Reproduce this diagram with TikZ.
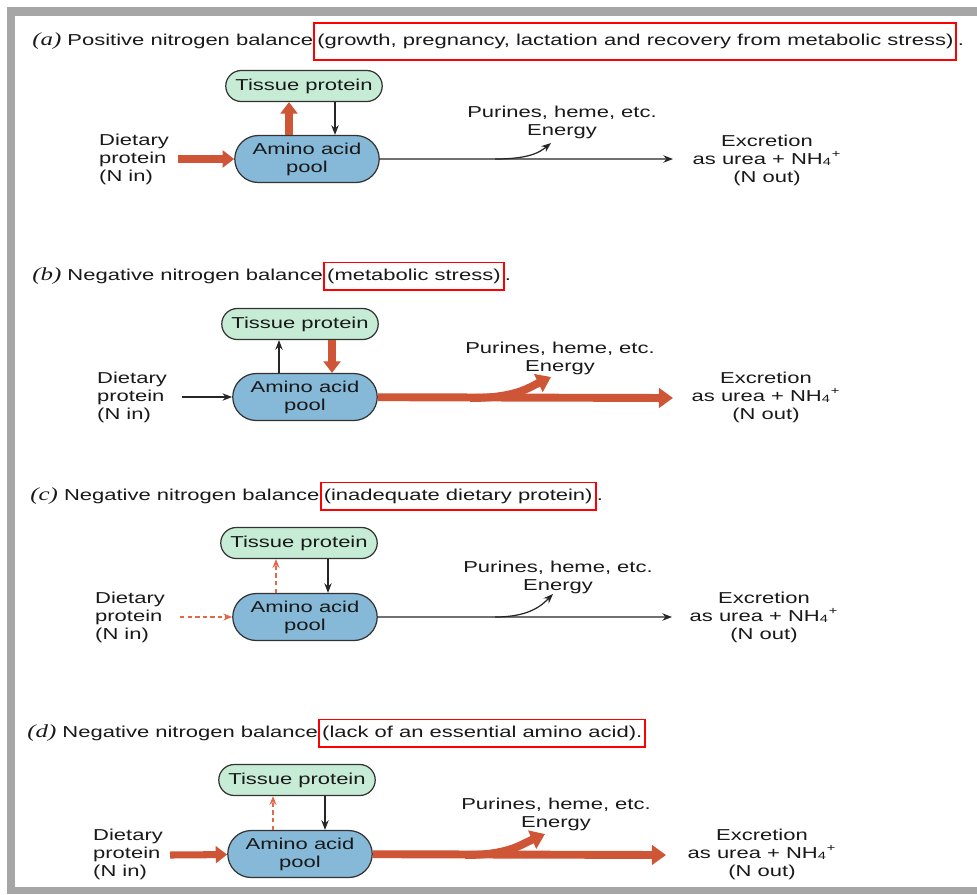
\documentclass[tikz,border=0pt]{standalone}
\usepackage{fontspec}
\setmainfont[FakeStretch=1.39]{Liberation Sans}
\newfontfamily\lblfont[FakeStretch=1.35]{Liberation Serif}
\usetikzlibrary{arrows.meta, shapes.misc, positioning}

\definecolor{tissuegreen}{HTML}{C6ECD6}
\definecolor{poolblue}{HTML}{86B8D8}
\definecolor{fatorange}{HTML}{CF5537}
\definecolor{dashorange}{HTML}{E0694A}
\definecolor{framegray}{HTML}{A6A6A6}

\newcommand{\lbl}[1]{{\lblfont\itshape\fontsize{10.5}{10.5}\selectfont (#1)}}
\newcommand{\nhfour}{NH\textsubscript{4}\textsuperscript{+}}

\tikzset{
  tissue/.style={rounded rectangle, draw=black!80, line width=0.7pt, fill=tissuegreen,
    minimum width=3.2cm, minimum height=0.62cm, inner sep=1pt},
  pool/.style={rounded rectangle, draw=black!80, line width=0.7pt, fill=poolblue,
    minimum width=2.96cm, minimum height=0.94cm, align=center, inner sep=1pt},
  heading/.style={anchor=west, inner sep=0pt},
  redbox/.style={draw=red, line width=1.1pt, inner xsep=1.7pt, inner ysep=3.7pt, anchor=base west},
  fat/.style={draw=fatorange, line width=4pt, -{Triangle[length=6.5pt,width=9.5pt]}},
  bigfat/.style={draw=fatorange, line width=4.5pt, -{Triangle[length=8pt,width=11pt]}},
  thinarr/.style={draw=black!85, line width=0.7pt, ->},
  dsharr/.style={draw=dashorange, line width=0.8pt, dash pattern=on 2.5pt off 1.8pt,
    -{Stealth[length=5pt,width=4pt]}},
}

\begin{document}
\begin{tikzpicture}[x=0.02cm, y=-0.02cm, >={Stealth[length=5.5pt,width=4.2pt]},
  font=\fontsize{9}{10.2}\selectfont, text=black!90]
\useasboundingbox[fill=white] (0,0) rectangle (977,894);
\fill[framegray] (7,7) rectangle (977,16);
\fill[framegray] (7,7) rectangle (15,894);
\fill[framegray] (7,887) rectangle (977,894);

% (a) positive balance
\node[heading] (headA) at (32,41) {\lbl{a} Positive nitrogen balance};
\node[redbox, inner ysep=6.5pt] (noteA) at (headA.base east) {(growth, pregnancy, lactation and recovery from metabolic stress)};
\node[heading, anchor=base west] (dotA) at (noteA.base east) {.};
\node[tissue] (tisA) at (304,86) {Tissue protein};
\node[pool] (poolA) at (307,159) {Amino acid\\pool};
\node[align=left, anchor=west] (dietA) at (93,159) {Dietary\\protein\\(N in)};
\node[align=center] (purA) at (562,122) {Purines, heme, etc.\\Energy};
\node[align=center] (excA) at (767,160) {Excretion\\as urea + \nhfour\\(N out)};
\coordinate (inA) at (178,159);
\coordinate (upA) at (289,0);
\coordinate (dnA) at (335,0);
\coordinate (brA) at (495,159);
\coordinate (enA) at (551,143);
\coordinate (outA) at (673,159);
\draw[fat] (inA) -- (poolA);
\draw[fat] (upA |- poolA.north) -- (upA |- tisA.south);
\draw[thinarr] (dnA |- tisA.south) -- (dnA |- poolA.north);
\draw[thinarr] (poolA) -- (outA);
\draw[thinarr] (brA) .. controls (530,159) and (540,152) .. (enA);

% (b) metabolic stress
\node[heading] (headB) at (32,276) {\lbl{b} Negative nitrogen balance};
\node[redbox] (noteB) at (headB.base east) {(metabolic stress)};
\node[heading, anchor=base west] (dotB) at (noteB.base east) {.};
\node[tissue] (tisB) at (300,324) {Tissue protein};
\node[pool] (poolB) at (305,397) {Amino acid\\pool};
\node[align=left, anchor=west] (dietB) at (91,397) {Dietary\\protein\\(N in)};
\node[align=center] (purB) at (560,358) {Purines, heme, etc.\\Energy};
\node[align=center] (excB) at (766,397) {Excretion\\as urea + \nhfour\\(N out)};
\coordinate (inB) at (182,397);
\coordinate (upB) at (279,0);
\coordinate (dnB) at (332,0);
\coordinate (brB) at (470,398);
\coordinate (enB) at (551,377);
\coordinate (outB) at (673,398);
\draw[thinarr] (inB) -- (poolB);
\draw[thinarr] (upB |- poolB.north) -- (upB |- tisB.south);
\draw[fat] (dnB |- tisB.south) -- (dnB |- poolB.north);
\draw[bigfat] (brB) .. controls (515,398) and (528,388) .. (enB);
\draw[bigfat] (poolB) -- (outB);

% (c) inadequate dietary protein
\node[heading] (headC) at (30,496) {\lbl{c} Negative nitrogen balance};
\node[redbox] (noteC) at (headC.base east) {(inadequate dietary protein)};
\node[heading, anchor=base west] (dotC) at (noteC.base east) {.};
\node[tissue] (tisC) at (299,543) {Tissue protein};
\node[pool] (poolC) at (305,617) {Amino acid\\pool};
\node[align=left, anchor=west] (dietC) at (89,617) {Dietary\\protein\\(N in)};
\node[align=center] (purC) at (558,577) {Purines, heme, etc.\\Energy};
\node[align=center] (excC) at (764,617) {Excretion\\as urea + \nhfour\\(N out)};
\coordinate (inC) at (180,617);
\coordinate (upC) at (276,0);
\coordinate (dnC) at (328,0);
\coordinate (brC) at (495,617);
\coordinate (enC) at (553,594);
\coordinate (outC) at (672,617);
\draw[dsharr] (inC) -- (poolC);
\draw[dsharr] (upC |- poolC.north) -- (upC |- tisC.south);
\draw[thinarr] (dnC |- tisC.south) -- (dnC |- poolC.north);
\draw[thinarr] (poolC) -- (outC);
\draw[thinarr] (brC) .. controls (530,617) and (542,605) .. (enC);

% (d) lack of an essential amino acid
\node[heading] (headD) at (27,733) {\lbl{d} Negative nitrogen balance};
\node[redbox] (noteD) at (headD.base east) {(lack of an essential amino acid).};
\node[tissue] (tisD) at (297,780) {Tissue protein};
\node[pool] (poolD) at (300,854) {Amino acid\\pool};
\node[align=left, anchor=west] (dietD) at (87,854) {Dietary\\protein\\(N in)};
\node[align=center] (purD) at (556,814) {Purines, heme, etc.\\Energy};
\node[align=center] (excD) at (762,854) {Excretion\\as urea + \nhfour\\(N out)};
\coordinate (inD) at (170,855);
\coordinate (upD) at (273,0);
\coordinate (dnD) at (325,0);
\coordinate (brD) at (465,855);
\coordinate (enD) at (545,834);
\coordinate (outD) at (666,855);
\draw[fat] (inD) -- (poolD);
\draw[dsharr] (upD |- poolD.north) -- (upD |- tisD.south);
\draw[thinarr] (dnD |- tisD.south) -- (dnD |- poolD.north);
\draw[bigfat] (brD) .. controls (508,855) and (520,845) .. (enD);
\draw[bigfat] (poolD) -- (outD);
\end{tikzpicture}
\end{document}
